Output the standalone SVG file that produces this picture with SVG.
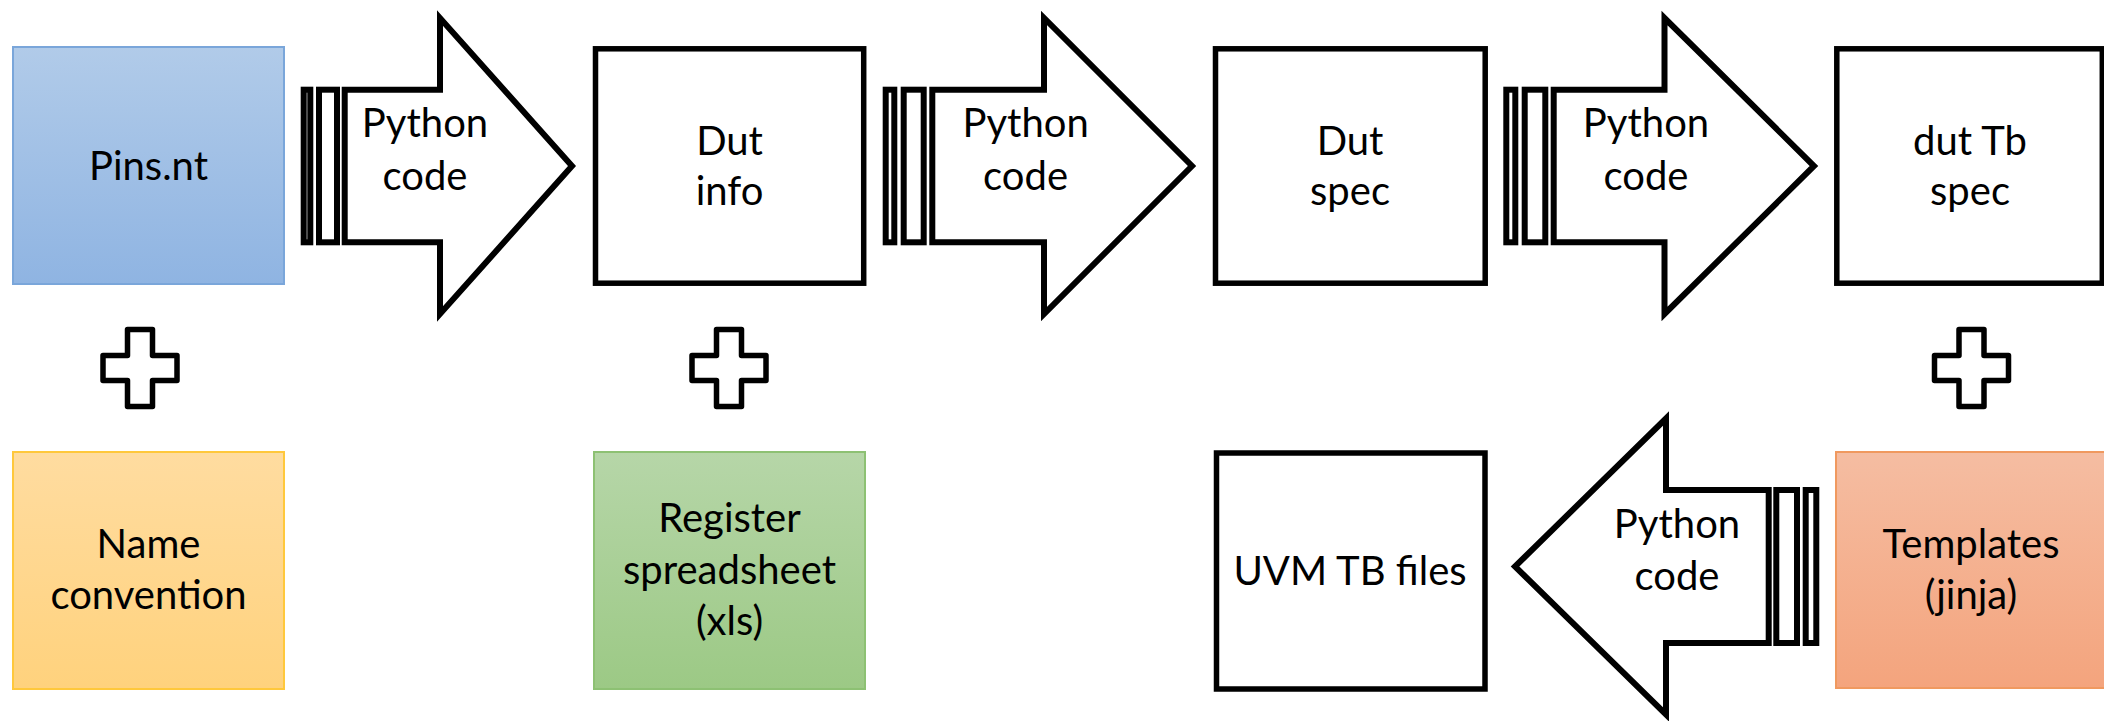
<svg xmlns="http://www.w3.org/2000/svg" width="2104" height="721" viewBox="0 0 2104 721">
<defs>
<linearGradient id="gBlue" x1="0" y1="0" x2="0" y2="1"><stop offset="0" stop-color="#B1CBE9"/><stop offset="1" stop-color="#8FB4E2"/></linearGradient>
<linearGradient id="gYellow" x1="0" y1="0" x2="0" y2="1"><stop offset="0" stop-color="#FFDCA0"/><stop offset="1" stop-color="#FFD27D"/></linearGradient>
<linearGradient id="gGreen" x1="0" y1="0" x2="0" y2="1"><stop offset="0" stop-color="#B6D6A8"/><stop offset="1" stop-color="#9CC985"/></linearGradient>
<linearGradient id="gSalmon" x1="0" y1="0" x2="0" y2="1"><stop offset="0" stop-color="#F5BDA2"/><stop offset="1" stop-color="#F4A47D"/></linearGradient>
</defs>
<style>
text{font-family:Lato,"Liberation Sans",sans-serif;font-size:40px;fill:#000;text-anchor:middle}
.box{fill:#fff;stroke:#000;stroke-width:5.5}
.arrow{fill:#fff;stroke:#000;stroke-width:6;stroke-linejoin:miter;stroke-miterlimit:10}
.cross{fill:#fff;stroke:#000;stroke-width:5.5;stroke-linejoin:round}
</style>
<rect width="2104" height="721" fill="#fff"/>
<g id="pins">
<rect x="13" y="47" width="271" height="237" fill="url(#gBlue)" stroke="#7AA6DA" stroke-width="2"/>
<text x="148.5" y="180">Pins.nt</text>
</g>
<g id="dut-info">
<rect class="box" x="595.5" y="48.8" width="268.2" height="234.4"/>
<text x="729.5" y="154.5">Dut</text><text x="729.5" y="204.5">info</text>
</g>
<g id="dut-spec">
<rect class="box" x="1215.5" y="48.8" width="269.7" height="234.4"/>
<text x="1350" y="154.5">Dut</text><text x="1350" y="204.5">spec</text>
</g>
<g id="dut-tb-spec">
<rect class="box" x="1836.8" y="48.8" width="265.5" height="234.4"/>
<text x="1970" y="154.5">dut Tb</text><text x="1970" y="204.5">spec</text>
</g>
<g id="name-convention">
<rect x="13" y="452" width="271" height="237" fill="url(#gYellow)" stroke="#FFC83C" stroke-width="2"/>
<text x="148.5" y="558">Name</text><text x="148.5" y="609">convention</text>
</g>
<g id="register-spreadsheet">
<rect x="594" y="452" width="271" height="237" fill="url(#gGreen)" stroke="#8DC173" stroke-width="2"/>
<text x="729.5" y="532">Register</text><text x="729.5" y="584">spreadsheet</text><text x="729.5" y="635">(xls)</text>
</g>
<g id="uvm-tb-files">
<rect class="box" x="1216.5" y="453" width="268.5" height="236"/>
<text x="1350" y="585">UVM TB files</text>
</g>
<g id="templates">
<rect x="1836" y="452" width="270" height="236" fill="url(#gSalmon)" stroke="#F0995F" stroke-width="2"/>
<text x="1971" y="558">Templates</text><text x="1971" y="609">(jinja)</text>
</g>
<g id="connectors">
<g id="arrow1">
<rect class="arrow" x="303.7" y="89.7" width="6.6" height="152.6"/>
<rect class="arrow" x="319" y="89.7" width="18" height="152.6"/>
<path class="arrow" d="M344.7,89.7 H440 V18 L572,166 L440,314 V242.3 H344.7 Z"/>
<text x="425" y="137">Python</text><text x="425" y="190">code</text>
</g>
<g id="arrow2">
<rect class="arrow" x="885.7" y="89.7" width="8.6" height="152.6"/>
<rect class="arrow" x="903.7" y="89.7" width="20" height="152.6"/>
<path class="arrow" d="M932.3,89.7 H1044 V18 L1192,166 L1044,314 V242.3 H932.3 Z"/>
<text x="1025.6" y="137">Python</text><text x="1025.6" y="190">code</text>
</g>
<g id="arrow3">
<rect class="arrow" x="1506.3" y="89.7" width="9" height="152.6"/>
<rect class="arrow" x="1524.7" y="89.7" width="20.6" height="152.6"/>
<path class="arrow" d="M1553.7,89.7 H1664.5 V18 L1814,166 L1664.5,314 V242.3 H1553.7 Z"/>
<text x="1646" y="137">Python</text><text x="1646" y="190">code</text>
</g>
<g id="arrow4">
<rect class="arrow" x="1805.7" y="490" width="10.6" height="153"/>
<rect class="arrow" x="1776.3" y="490" width="20.7" height="153"/>
<path class="arrow" d="M1768.7,490 H1666 V418.5 L1515,566.5 L1666,714.5 V643 H1768.7 Z"/>
<text x="1677" y="538">Python</text><text x="1677" y="590">code</text>
</g>
<path class="cross" transform="translate(140,368)" d="M-12.5,-38.5 H12.5 V-12.5 H37 V12.5 H12.5 V38.5 H-12.5 V12.5 H-37 V-12.5 H-12.5 Z"/>
<path class="cross" transform="translate(729,368)" d="M-12.5,-38.5 H12.5 V-12.5 H37 V12.5 H12.5 V38.5 H-12.5 V12.5 H-37 V-12.5 H-12.5 Z"/>
<path class="cross" transform="translate(1971.5,368)" d="M-12.5,-38.5 H12.5 V-12.5 H37 V12.5 H12.5 V38.5 H-12.5 V12.5 H-37 V-12.5 H-12.5 Z"/>
</g>
</svg>
